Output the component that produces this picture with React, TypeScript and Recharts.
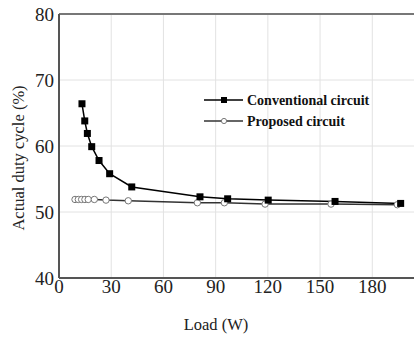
import React from "react";
import {
  LineChart,
  Line,
  XAxis,
  YAxis,
  CartesianGrid,
  ReferenceLine,
  Label,
} from "recharts";

const convLoad = [13.2, 14.8, 16.3, 18.8, 23.0, 29.1, 41.8, 81.0, 96.9, 120.2, 158.6, 196.3];
const convDuty = [66.4, 63.8, 61.9, 59.9, 57.8, 55.8, 53.8, 52.3, 52.0, 51.8, 51.6, 51.3];

const propLoad = [9.2, 11.1, 13.0, 14.9, 16.8, 20.3, 27.0, 39.8, 79.5, 95.0, 118.4, 156.3, 194.4];
const propDuty = [51.9, 51.9, 51.9, 51.9, 51.9, 51.9, 51.8, 51.7, 51.4, 51.4, 51.2, 51.2, 51.1];

const xTicks = [0, 30, 60, 90, 120, 150, 180];
const yTicks = [40, 50, 60, 70, 80];

const seriesNames = ["Conventional circuit", "Proposed circuit"];

const convData = convLoad.map((x, i) => ({ x, y: convDuty[i] }));
const propData = propLoad.map((x, i) => ({ x, y: propDuty[i] }));

const serif = "Liberation Serif, serif";

const SquareDot = (props: any) => {
  const { cx, cy, index } = props;
  return <rect key={"s" + index} x={cx - 3.5} y={cy - 3.5} width={7} height={7} fill="#000" />;
};

const CircleDot = (props: any) => {
  const { cx, cy, index } = props;
  return <circle key={"c" + index} cx={cx} cy={cy} r={3.2} fill="#fff" stroke="#777" strokeWidth={1} />;
};

const XTick = (props: any) => {
  const { x, y, payload } = props;
  return (
    <text x={x} y={y + 15} textAnchor="middle" style={{ fontFamily: serif, fontSize: 19 }} fill="#222">
      {payload.value}
    </text>
  );
};

const YTick = (props: any) => {
  const { x, y, payload } = props;
  return (
    <text x={x - 5} y={y + 7} textAnchor="end" style={{ fontFamily: serif, fontSize: 19 }} fill="#222">
      {payload.value}
    </text>
  );
};

// legend drawn as an overlay so it takes no room from the plot
const LegendBox = () => (
  <svg width={170} height={40} style={{ overflow: "visible", display: "block" }}>
    <line x1={0} y1={8} x2={39} y2={8} stroke="#000" strokeWidth={1.5} />
    <rect x={17} y={5} width={6} height={6} fill="#000" />
    <text x={43} y={13} style={{ fontFamily: serif, fontWeight: "bold", fontSize: 14 }} fill="#111">
      {seriesNames[0]}
    </text>
    <line x1={0} y1={29} x2={39} y2={29} stroke="#333" strokeWidth={1.5} />
    <circle cx={20} cy={29} r={2.6} fill="#fff" stroke="#777" />
    <text x={43} y={34} style={{ fontFamily: serif, fontWeight: "bold", fontSize: 14 }} fill="#111">
      {seriesNames[1]}
    </text>
  </svg>
);

export default function App() {
  return (
    <div
      style={{
        position: "absolute",
        left: 0,
        top: 0,
        width: 414,
        height: 338,
        overflow: "hidden",
        background: "#fff",
        fontFamily: serif,
      }}
    >
      <LineChart
        width={430}
        height={338}
        margin={{ top: 14, right: 5.5, left: 0, bottom: 20 }}
      >
        <CartesianGrid stroke="#e2e2e2" strokeWidth={1} />
        <XAxis
          type="number"
          dataKey="x"
          domain={[0, 210]}
          ticks={xTicks}
          tickLine={false}
          tickSize={0}
          tickMargin={0}
          axisLine={{ stroke: "#555", strokeWidth: 2 }}
          height={40}
          tick={XTick}
        >
          <Label
            content={() => (
              <text x={216} y={330} textAnchor="middle" style={{ fontFamily: serif, fontSize: 16.5 }} fill="#222">
                Load (W)
              </text>
            )}
          />
        </XAxis>
        <YAxis
          type="number"
          dataKey="y"
          domain={[40, 80]}
          ticks={yTicks}
          width={59}
          tickLine={false}
          tickSize={0}
          tickMargin={0}
          axisLine={{ stroke: "#555", strokeWidth: 2 }}
          tick={YTick}
        >
          <Label
            content={() => (
              <text
                x={18}
                y={158}
                textAnchor="middle"
                dominantBaseline="central"
                transform="rotate(-90 18 158)"
                style={{ fontFamily: serif, fontSize: 16.5 }}
                fill="#222"
              >
                Actual duty cycle (%)
              </text>
            )}
          />
        </YAxis>
        <ReferenceLine y={80} stroke="#777" strokeWidth={2} />
        <Line
          data={propData}
          dataKey="y"
          stroke="#333"
          strokeWidth={1.5}
          dot={CircleDot}
          isAnimationActive={false}
        />
        <Line
          data={convData}
          dataKey="y"
          stroke="#000"
          strokeWidth={1.5}
          dot={SquareDot}
          isAnimationActive={false}
        />
      </LineChart>
      <div style={{ position: "absolute", left: 204, top: 92 }}>
        <LegendBox />
      </div>
    </div>
  );
}
